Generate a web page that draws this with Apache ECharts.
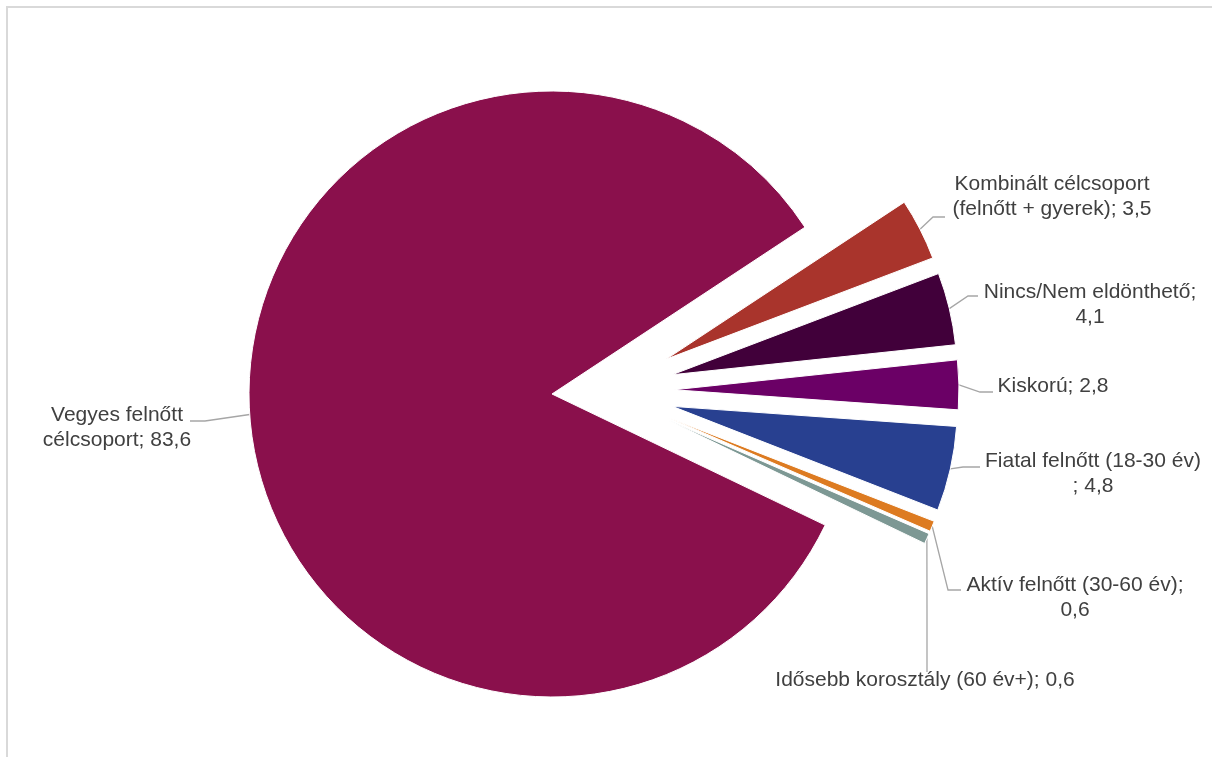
<!DOCTYPE html>
<html>
<head>
<meta charset="utf-8">
<script src="https://cdn.jsdelivr.net/npm/echarts@6/dist/echarts.min.js"></script>
<style>
html,body{margin:0;padding:0;width:1212px;height:757px;overflow:hidden;background:#fff}
#frame{position:absolute;left:6px;top:6px;width:1300px;height:900px;border:2px solid #D9D9D9;box-sizing:border-box}
#chart{position:absolute;left:0;top:0;width:1212px;height:757px}
</style>
</head>
<body>
<div id="frame"></div>
<div id="chart"></div>
<script>
// ---- data ----
const categories = [
  'Kombinált célcsoport\n(felnőtt + gyerek)',
  'Nincs/Nem eldönthető',
  'Kiskorú',
  'Fiatal felnőtt (18-30 év)',
  'Aktív felnőtt (30-60 év)',
  'Idősebb korosztály (60 év+)',
  'Vegyes felnőtt\ncélcsoport'
];
const values = [3.5, 4.1, 2.8, 4.8, 0.6, 0.6, 83.6];
const labelSeparators = ['; ', ';\n', '; ', '\n; ', ';\n', '; ', '; '];

// ---- styles / layout ----
const colors = ['#A9342C', '#41003A', '#6B0066', '#284090', '#DD7B21', '#7D9894', '#8A104C'];
const labelCenters = [[1052, 197], [1090, 305], [1053, 386], [1093, 474], [1075, 598], [925, 680], [117, 428]];
const labelElbows = [
  [[933, 217], [945, 217]],
  [[968, 296], [978, 296]],
  [[980, 392], [993, 392]],
  [[963, 467], [980, 467]],
  [[948, 590], [961, 590]],
  [[927, 610], [927, 672]],
  [[205, 421], [190, 421]]
];
const startNorth = 56.6;          // first slice edge, degrees clockwise from 12 o'clock
const bigCenter = [552, 394], bigR = 303;
const smallCenter = [604, 391], smallR = 285, explode = 70;

const total = values.reduce((a, b) => a + b, 0);
let acc = 0;
const mids = values.map(v => { const m = startNorth + (acc + v / 2) / total * 360; acc += v; return m; });
const fmt = v => v.toFixed(1).replace('.', ',');

const series = values.map((v, i) => {
  const isBig = i === values.length - 1;
  const rad = mids[i] * Math.PI / 180;
  const c = isBig ? bigCenter : [smallCenter[0] + explode * Math.sin(rad), smallCenter[1] - explode * Math.cos(rad)];
  return {
    type: 'pie',
    center: c,
    radius: [0, isBig ? bigR : smallR],
    startAngle: 90 - startNorth,
    clockwise: true,
    avoidLabelOverlap: false,
    silent: true,
    animation: false,
    emphasis: { disabled: true },
    data: values.map((vv, j) => ({
      name: categories[j],
      value: vv,
      itemStyle: j === i ? { color: colors[j], borderColor: '#fff', borderWidth: 1 } : { color: 'rgba(0,0,0,0)', borderWidth: 0 },
      label: { show: j === i },
      labelLine: { show: j === i }
    })),
    label: {
      position: 'outside',
      formatter: p => p.name + labelSeparators[p.dataIndex] + fmt(p.value),
      color: '#404040',
      fontSize: 21,
      lineHeight: 25,
      align: 'center',
      fontFamily: '"Liberation Sans", Arial, sans-serif'
    },
    labelLine: { show: true, length: 10, length2: 10, lineStyle: { color: '#A6A6A6', width: 1.3 } },
    labelLayout: params => {
      if (params.dataIndex !== i) return {};
      const p0 = params.labelLinePoints ? params.labelLinePoints[0] : labelElbows[i][0];
      return {
        x: labelCenters[i][0], y: labelCenters[i][1],
        align: 'center', verticalAlign: 'middle',
        labelLinePoints: [p0, labelElbows[i][0], labelElbows[i][1]]
      };
    }
  };
});

const chart = echarts.init(document.getElementById('chart'), null, { renderer: 'canvas' });
chart.setOption({ animation: false, series: series });
</script>
</body>
</html>
